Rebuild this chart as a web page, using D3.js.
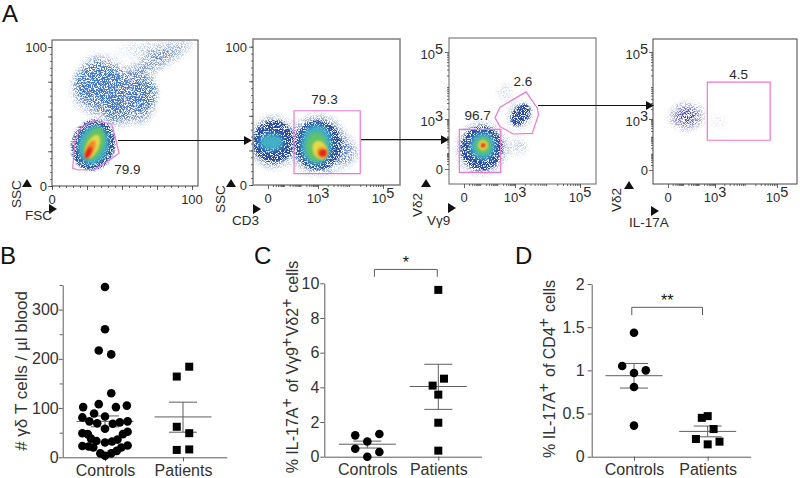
<!DOCTYPE html>
<html>
<head>
<meta charset="utf-8">
<script src="https://cdn.jsdelivr.net/npm/d3@7"></script>
<style>
	html, body { margin: 0; background: #fff; }
	svg { display: block; font-family: "Liberation Sans", Arial, sans-serif; }
</style>
</head>
<body>
<div id="chart-area"></div>
<script>
/*
	Data (flow panels, dot plots)
	Canvas, filters
	Flow panels
	Arrows
	Dot plots
*/

// ---- Flow panels: density clouds are [x, y, rx, ry, rotation, level] in axis units
const fscSscClouds = [
	[75, 90, 30, 4, -30, 0], [70, 98, 26, 2, 0, 0], [33, 88, 8, 5, 0, 0], [36, 70, 20, 18, 0, 0], [62, 62, 10, 16, 0, 0], [46, 52, 8, 8, 0, 0],
	[34.3, 73.9, 18, 14, 0, 1], [65.2, 65.5, 9, 13, 20, 1], [44, 58, 8, 10, 0, 1], [36, 72, 12, 9, 0, 1], [65, 66, 5, 8, 20, 1],
	[29.5, 29.5, 14.5, 17.5, 15, 2], [29.5, 29.5, 11, 14.4, 15, 3], [30, 30.5, 7, 12, 20, 4],
	[29, 28.5, 4.3, 9, 25, 5], [27.4, 26.6, 2.9, 6.7, 25, 6], [26, 24, 1.8, 4.6, 25, 7]
];
const cd3SscClouds = [
	[0.3, 31, 1.25, 17, 0, 0], [3, 29, 1.05, 20, 0, 0], [3.75, 24, 0.4, 9, 0, 0],
	[0.32, 31.3, 1.15, 14.5, 0, 2], [3, 29, 0.9, 17, 0, 2],
	[0.2, 31, 0.75, 6, 0, 3], [2.9, 29, 0.66, 14.5, 0, 3], [2.9, 27.7, 0.45, 10.5, 0, 4],
	[3.06, 25.3, 0.27, 7, -25, 5], [3.13, 23.5, 0.17, 4, -25, 6], [3.15, 23, 0.11, 2.4, 0, 7]
];
const vg9Vd2Clouds = [
	[1.04, 1.24, 1.3, 1.4, 0, 0], [2.41, 3.81, 0.45, 0.12, -35, 0], [3.15, 1.34, 0.2, 0.35, 0, 0],
	[3.17, 3.12, 0.3, 0.42, 40, 0], [3.17, 3.12, 0.22, 0.4, 40, 2],
	[1.04, 1.24, 1.15, 1.25, 0, 2], [1.1, 1.38, 0.74, 0.8, 0, 3], [1.12, 1.4, 0.46, 0.52, 0, 4],
	[1.12, 1.42, 0.28, 0.3, 0, 5], [1.12, 1.42, 0.18, 0.18, 0, 6], [1.12, 1.42, 0.1, 0.1, 0, 7]
];
const il17Vd2Clouds = [
	[1.2, 3.08, 0.95, 0.38, 0, 0], [3.16, 2.85, 0.25, 0.16, -35, 0]
];

// ---- Gates, axis units
const fscSscGate = [[14.8, 12.7], [16.4, 33.1], [21.2, 42.7], [30.7, 47], [42.6, 44.6], [45, 35.5], [47.9, 23.5], [39, 17.5], [30.7, 12.2], [18.8, 11.5]];
const cd3SscGate = [[1.56, 8.2], [1.56, 53.7], [4.3, 53.7], [4.3, 8.2]];
const vd2LowGate = [[-0.28, -0.2], [-0.28, 2.38], [2.16, 2.38], [2.16, -0.2]];
const vd2HighGate = [[1.82, 3.04], [2.12, 3.35], [3.34, 3.81], [3.69, 3.32], [3.72, 3.12], [3.53, 2.14], [2.9, 2.1], [2.12, 2.54]];
const il17Gate = [[2.51, 1.75], [2.51, 4.1], [4.78, 4.1], [4.78, 1.75]];

const densityColors = ["#5c7cc6", "#3f78c8", "#2a4ca6", "#3fb0c4", "#62c266", "#e6d94a", "#f08a2c", "#e2201e"];

// ---- Flow tick labels
const linearFlowTicks = [0, 100];
const logFlowTicks = [0, 3, 5];

// ---- B
const bControlsOffset = [0, 0, -0.08, 0.08, 0.08, -0.28, -0.08, 0.14, 0.28, -0.29, -0.14, 0, -0.2, -0.1, 0.1, 0.19, 0.29, 0, -0.29, -0.22, -0.18, -0.11, 0, 0.09, 0.16, 0.23, 0.29, -0.29, -0.21, -0.15, -0.06, 0, 0.08, 0.15, 0.21, 0.29];
const bControlsValue = [346, 260, 217, 209, 130, 102, 108, 102, 105, 81, 89, 83, 73, 69, 68, 71, 73, 58, 49, 47, 38, 33, 30, 32, 36, 47, 52, 23, 22, 20, 8, 3, 8, 13, 20, 24];
const bPatientsOffset = [0.08, -0.08, -0.08, 0.08, -0.08, 0.08];
const bPatientsValue = [184, 164, 62, 49, 15, 16];
const bControlsStats = [73, 62, 84];
const bPatientsStats = [82, 51, 112];

// ---- C
const cControlsOffset = [-0.17, 0.17, 0, -0.17, 0.17, 0];
const cControlsValue = [1.23, 1.31, 0.88, 0.46, 0.27, 0];
const cPatientsOffset = [0, 0.08, -0.08, 0, 0, 0];
const cPatientsValue = [9.62, 4.5, 4.1, 3.58, 1.96, 0.35];
const cControlsStats = [0.72, 0.5, 0.9];
const cPatientsStats = [4.05, 2.73, 5.33];

// ---- D
const dControlsOffset = [0, -0.16, 0.16, 0, 0, 0];
const dControlsValue = [1.436, 1.05, 1.0, 0.97, 0.807, 0.36];
const dPatientsOffset = [0, -0.08, 0.08, -0.16, 0.16, 0];
const dPatientsValue = [0.47, 0.45, 0.32, 0.205, 0.174, 0.143];
const dControlsStats = [0.938, 0.795, 1.08];
const dPatientsStats = [0.293, 0.23, 0.355];

const groupLabels = ["Controls", "Patients"];

// Canvas
const svg = d3.select("#chart-area")
	.append("svg")
	.attr("width", 800)
	.attr("height", 478);

const defs = svg.append("defs");
const ink = "#2b2b2b";
const axisGrey = "#5c5c5c";
const gatePink = "#ee78d0";

// grainy filter for the sparse blue levels, soft blur for the dense colours
function speckleFilter(id, blur, slope, intercept) {
	const f = defs.append("filter").attr("id", id)
		.attr("filterUnits", "userSpaceOnUse")
		.attr("x", 0).attr("y", 0).attr("width", 800).attr("height", 478)
		.attr("color-interpolation-filters", "sRGB");
	f.append("feGaussianBlur").attr("in", "SourceGraphic").attr("stdDeviation", blur).attr("result", "b");
	f.append("feTurbulence").attr("type", "fractalNoise").attr("baseFrequency", 1.3)
		.attr("numOctaves", 1).attr("seed", 7).attr("result", "n");
	f.append("feColorMatrix").attr("in", "n").attr("type", "matrix")
		.attr("values", "0 0 0 0 1  0 0 0 0 1  0 0 0 0 1  5 0 0 0 -2").attr("result", "na");
	f.append("feComposite").attr("in", "b").attr("in2", "na").attr("operator", "in").attr("result", "c");
	const t = f.append("feComponentTransfer").attr("in", "c").attr("result", "d");
	t.append("feFuncA").attr("type", "linear").attr("slope", slope).attr("intercept", intercept);
	f.append("feGaussianBlur").attr("in", "d").attr("stdDeviation", 0.4);
}
speckleFilter("grain0", 7, 1.5, -0.12);
speckleFilter("grain1", 4, 1.6, -0.2);
speckleFilter("grain2", 2, 3.2, -0.1);
defs.append("filter").attr("id", "soft3").append("feGaussianBlur").attr("stdDeviation", 2.4);
defs.append("filter").attr("id", "soft4").append("feGaussianBlur").attr("stdDeviation", 1.6);
defs.append("filter").attr("id", "soft5").append("feGaussianBlur").attr("stdDeviation", 1);

const levelFilter = ["grain0", "grain1", "grain2", "soft3", "soft4", "soft5", "soft5", "soft5"];

// Flow panels
function logMinorTicks() {
	const out = [];
	[0, 1, 2, 3, 4].forEach(e => {
		[2, 3, 4, 5, 6, 7, 8, 9].forEach(k => out.push(e + Math.log10(k)));
	});
	return out;
}

function powerLabel(sel, exp) {
	if (exp === 0) { sel.text("0"); return; }
	sel.append("tspan").text("10");
	sel.append("tspan").attr("dy", -5).attr("font-size", 14.5).text(exp);
}

function flowPanel(cfg) {
	const { frame, x, y } = cfg;
	const g = svg.append("g");
	const clipId = "clip-" + cfg.id;
	defs.append("clipPath").attr("id", clipId).append("rect")
		.attr("x", frame[0]).attr("y", frame[1])
		.attr("width", frame[2] - frame[0]).attr("height", frame[3] - frame[1]);

	// clouds, level by level
	const cloud = g.append("g").attr("clip-path", `url(#${clipId})`);
	d3.range(densityColors.length).forEach(level => {
		const rows = cfg.clouds.filter(d => d[5] === level);
		if (!rows.length) return;
		cloud.append("g")
			.attr("filter", `url(#${levelFilter[level]})`)
			.selectAll("ellipse")
			.data(rows)
			.join("ellipse")
			.attr("transform", d => `translate(${x(d[0])},${y(d[1])}) rotate(${d[4]})`)
			.attr("rx", d => Math.abs(x(d[0] + d[2]) - x(d[0] - d[2])) / 2)
			.attr("ry", d => Math.abs(y(d[1] + d[3]) - y(d[1] - d[3])) / 2)
			.attr("fill", cfg.sparseColor && level < 3 ? cfg.sparseColor : densityColors[level]);
	});

	// gates
	g.selectAll("polygon.gate")
		.data(cfg.gates)
		.join("polygon")
		.attr("class", "gate")
		.attr("points", d => d.map(p => [x(p[0]), y(p[1])].join(",")).join(" "))
		.attr("fill", "none")
		.attr("stroke", gatePink)
		.attr("stroke-width", 1.2);

	// frame
	g.append("rect")
		.attr("x", frame[0]).attr("y", frame[1])
		.attr("width", frame[2] - frame[0]).attr("height", frame[3] - frame[1])
		.attr("fill", "none")
		.attr("stroke", cfg.frameColor)
		.attr("stroke-width", cfg.frameWidth);

	// ticks
	const addAxis = (axis, scale, major, minor, tx, ty) => {
		const a = g.append("g").attr("transform", `translate(${tx},${ty})`);
		a.append("g").call(axis(scale).tickValues(minor).tickSize(2).tickFormat("").tickSizeOuter(0));
		a.append("g").call(axis(scale).tickValues(major).tickSize(4).tickFormat("").tickSizeOuter(0));
		a.selectAll(".domain").remove();
		a.selectAll("line").attr("stroke", "#444").attr("stroke-width", 0.8);
	};
	addAxis(d3.axisBottom, x, cfg.xMajor, cfg.xMinor, 0, frame[3]);
	addAxis(d3.axisLeft, y, cfg.yMajor, cfg.yMinor, frame[0], 0);

	// tick labels
	const tickText = (v, isLog, anchor, px, py) => {
		const t = g.append("text").attr("x", px).attr("y", py)
			.attr("text-anchor", anchor).attr("font-size", 13).attr("fill", ink);
		isLog ? powerLabel(t, v) : t.text(v);
	};
	cfg.xTicks.forEach(v => tickText(v, cfg.logX, "middle", x(v), frame[3] + 17.5));
	cfg.yTicks.forEach(v => tickText(v, cfg.logY, "end", frame[0] - cfg.yLabelGap, y(v) + (cfg.logY && v ? 7 : 5)));

	// population labels
	cfg.labels.forEach(d => {
		g.append("text").attr("x", x(d[0])).attr("y", y(d[1]))
			.attr("text-anchor", "middle").attr("font-size", 13.5).attr("fill", ink).text(d[2]);
	});

	// axis names with the small triangles
	const [ux, uy] = cfg.upMark, [rx, ry] = cfg.rightMark;
	g.append("path").attr("d", `M${ux - 5},${uy + 4}L${ux},${uy - 4}L${ux + 5},${uy + 4}Z`).attr("fill", "#111");
	g.append("path").attr("d", `M${rx - 4},${ry - 5}L${rx + 4},${ry}L${rx - 4},${ry + 5}Z`).attr("fill", "#111");
	g.append("text").attr("x", cfg.xName[1]).attr("y", cfg.xName[2])
		.attr("font-size", 13.5).attr("fill", ink).text(cfg.xName[0]);
	g.append("text").attr("transform", `translate(${cfg.yName[1]},${cfg.yName[2]}) rotate(-90)`)
		.attr("font-size", 13.5).attr("fill", ink).text(cfg.yName[0]);
}

const linearMinor = d3.range(0, 105, 5);
const logMinor = logMinorTicks();

flowPanel({
	id: "fsc", frame: [52, 40, 198, 186], logX: false, logY: false,
	x: d3.scaleLinear().domain([0, 100]).range([52, 192]),
	y: d3.scaleLinear().domain([0, 100]).range([186, 47]),
	clouds: fscSscClouds, gates: [fscSscGate],
	frameColor: "#444", frameWidth: 1,
	xMajor: [0, 25, 50, 75, 100], xMinor: linearMinor, yMajor: [0, 25, 50, 75, 100], yMinor: linearMinor,
	xTicks: linearFlowTicks, yTicks: linearFlowTicks, yLabelGap: 5,
	labels: [[53.8, 8.6, "79.9"]],
	upMark: [27, 183], rightMark: [53, 209],
	xName: ["FSC", 25, 220], yName: ["SSC", 20.5, 208]
});

flowPanel({
	id: "cd3", frame: [253, 39, 400, 185], logX: true, logY: false,
	x: d3.scaleLinear().domain([-0.9, 0, 3, 5, 5.5]).range([253, 268, 318, 383, 400]),
	y: d3.scaleLinear().domain([0, 100]).range([185, 46.7]),
	clouds: cd3SscClouds, gates: [cd3SscGate],
	frameColor: "#888", frameWidth: 1.6,
	xMajor: logFlowTicks, xMinor: logMinor, yMajor: [0, 25, 50, 75, 100], yMinor: linearMinor,
	xTicks: logFlowTicks, yTicks: linearFlowTicks, yLabelGap: 6,
	labels: [[3.2, 58.6, "79.3"]],
	upMark: [231, 183], rightMark: [257, 209],
	xName: ["CD3", 232, 225], yName: ["SSC", 225, 213]
});

flowPanel({
	id: "vg9", frame: [449, 38, 596, 184], logX: true, logY: true,
	x: d3.scaleLinear().domain([-0.9, 0, 3, 5, 5.5]).range([449, 464, 515, 580, 596]),
	y: d3.scaleLinear().domain([-0.9, 0, 3, 5, 5.4]).range([184, 169, 119, 52, 38]),
	clouds: vg9Vd2Clouds, gates: [vd2LowGate, vd2HighGate],
	frameColor: "#666", frameWidth: 1,
	xMajor: logFlowTicks, xMinor: logMinor, yMajor: logFlowTicks, yMinor: logMinor,
	xTicks: logFlowTicks, yTicks: logFlowTicks, yLabelGap: 6,
	labels: [[0.8, 2.95, "96.7"], [3.24, 3.98, "2.6"]],
	upMark: [426, 183], rightMark: [452, 208],
	xName: ["V\u03b39", 427, 225], yName: ["V\u03b42", 422, 217]
});

flowPanel({
	id: "il17", frame: [653, 39, 797, 184], logX: true, logY: true,
	x: d3.scaleLinear().domain([-0.9, 0, 3, 5, 5.5]).range([653, 668, 715, 777, 797]),
	y: d3.scaleLinear().domain([-0.9, 0, 3, 5, 5.4]).range([184, 170, 119, 52, 39]),
	clouds: il17Vd2Clouds, gates: [il17Gate], sparseColor: "#4545c0",
	frameColor: "#444", frameWidth: 1,
	xMajor: logFlowTicks, xMinor: logMinor, yMajor: logFlowTicks, yMinor: logMinor,
	xTicks: logFlowTicks, yTicks: logFlowTicks, yLabelGap: 5,
	labels: [[3.76, 4.2, "4.5"]],
	upMark: [629, 185], rightMark: [655, 211],
	xName: ["IL-17A", 629, 227], yName: ["V\u03b42", 621, 212]
});

// Arrows between the panels
const arrowRows = [[118, 252, 140.5], [361, 449, 139.7], [538, 654, 105.5]];
svg.append("g").selectAll("g")
	.data(arrowRows)
	.join("g")
	.each(function (d) {
		const a = d3.select(this);
		a.append("line").attr("x1", d[0]).attr("x2", d[1] - 5).attr("y1", d[2]).attr("y2", d[2])
			.attr("stroke", "#111").attr("stroke-width", 1.2);
		a.append("path").attr("d", `M${d[1] - 8},${d[2] - 4.5}L${d[1]},${d[2]}L${d[1] - 8},${d[2] + 4.5}Z`).attr("fill", "#111");
	});

// Dot plots
function dotPanel(cfg) {
	const g = svg.append("g");
	const y = d3.scaleLinear().domain(cfg.yDomain).range(cfg.yRange);
	const x0 = d3.scaleLinear().domain([1, 2]).range(cfg.groupPx);
	const x = d3.scaleLinear().domain([x0.invert(cfg.xEnds[0]), x0.invert(cfg.xEnds[1])]).range(cfg.xEnds);

	// axes
	const yAxis = g.append("g").attr("transform", `translate(${cfg.xEnds[0]},0)`)
		.call(d3.axisLeft(y).tickValues(cfg.yTicks).tickSize(4).tickPadding(cfg.labelPad).tickFormat(d => d).tickSizeOuter(0));
	if (cfg.yMinor) {
		g.append("g").attr("transform", `translate(${cfg.xEnds[0]},0)`)
			.call(d3.axisLeft(y).tickValues(cfg.yMinor).tickSize(3).tickFormat("").tickSizeOuter(0))
			.call(s => s.select(".domain").remove());
	}
	const xAxis = g.append("g").attr("transform", `translate(0,${cfg.yRange[0]})`)
		.call(d3.axisBottom(x).tickValues([1, 2]).tickSize(4).tickPadding(3).tickFormat(d => groupLabels[d - 1]).tickSizeOuter(0));
	g.selectAll(".domain, .tick line").attr("stroke", axisGrey).attr("stroke-width", 1);
	[yAxis, xAxis].forEach(a => a.selectAll("text")
		.attr("font-size", 16).attr("font-family", "Liberation Sans").attr("fill", "#333"));

	// mean with error bars
	[[1, cfg.controlsStats], [2, cfg.patientsStats]].forEach(([grp, s]) => {
		const e = g.append("g").attr("stroke", "#5e5e5e").attr("stroke-width", 1);
		e.append("line").attr("x1", x(grp) - 28.5).attr("x2", x(grp) + 28.5).attr("y1", y(s[0])).attr("y2", y(s[0]));
		e.append("line").attr("x1", x(grp)).attr("x2", x(grp)).attr("y1", y(s[1])).attr("y2", y(s[2]));
		[s[1], s[2]].forEach(v => {
			e.append("line").attr("x1", x(grp) - 14).attr("x2", x(grp) + 14).attr("y1", y(v)).attr("y2", y(v));
		});
	});

	// points
	g.append("g").selectAll("circle")
		.data(cfg.controlsValue)
		.join("circle")
		.attr("cx", (d, i) => x(1 + cfg.controlsOffset[i]))
		.attr("cy", d => y(d))
		.attr("r", 4.3)
		.attr("fill", "#000");
	g.append("g").selectAll("rect")
		.data(cfg.patientsValue)
		.join("rect")
		.attr("x", (d, i) => x(2 + cfg.patientsOffset[i]) - 4)
		.attr("y", d => y(d) - 4)
		.attr("width", 8)
		.attr("height", 8)
		.attr("fill", "#000");

	// significance bracket
	if (cfg.bracket) {
		const b = cfg.bracket;
		g.append("path")
			.attr("d", `M${x(b.from)},${y(b.low)}V${y(b.high)}H${x(b.to)}V${y(b.low)}`)
			.attr("fill", "none").attr("stroke", axisGrey).attr("stroke-width", 1);
		g.append("text").attr("x", (x(b.from) + x(b.to)) / 2).attr("y", y(b.high) - 1)
			.attr("text-anchor", "middle").attr("font-size", 16).attr("fill", "#111").text(b.mark);
	}

	// y title with superscripts
	const title = g.append("text")
		.attr("transform", `translate(${cfg.titlePos[0]},${cfg.titlePos[1]}) rotate(-90)`)
		.attr("text-anchor", "middle").attr("font-size", cfg.titleSize || 16).attr("fill", "#333");
	cfg.title.forEach(([s, sup]) => {
		title.append("tspan").attr("dy", sup ? -6 : 0).text(s);
		if (sup) title.append("tspan").attr("dy", 6).text("\u200a");
	});
}

dotPanel({
	yDomain: [0, 350], yRange: [457.3, 285], groupPx: [105, 183], xEnds: [62.7, 226.7],
	yTicks: [0, 100, 200, 300], yMinor: [50, 150, 250, 350], labelPad: 0,
	controlsValue: bControlsValue, controlsOffset: bControlsOffset,
	patientsValue: bPatientsValue, patientsOffset: bPatientsOffset,
	controlsStats: bControlsStats, patientsStats: bPatientsStats,
	title: [["# \u03b3\u03b4 T cells / \u00b5l blood"]], titlePos: [27, 371], titleSize: 17
});

dotPanel({
	yDomain: [0, 10], yRange: [456.7, 283.3], groupPx: [367.3, 438.3], xEnds: [324.3, 481.7],
	yTicks: [0, 2, 4, 6, 8, 10], labelPad: 1,
	controlsValue: cControlsValue, controlsOffset: cControlsOffset,
	patientsValue: cPatientsValue, patientsOffset: cPatientsOffset,
	controlsStats: cControlsStats, patientsStats: cPatientsStats,
	bracket: { from: 1.1, to: 1.986, low: 10.38, high: 10.8, mark: "*" },
	title: [["% IL-17A"], ["+", true], [" of V\u03b39"], ["+", true], ["V\u03b42"], ["+", true], [" cells"]], titlePos: [298, 367]
});

dotPanel({
	yDomain: [0, 2], yRange: [456.7, 284], groupPx: [634, 707.7], xEnds: [591.7, 750.7],
	yTicks: [0, 0.5, 1, 1.5, 2], labelPad: 3,
	controlsValue: dControlsValue, controlsOffset: dControlsOffset,
	patientsValue: dPatientsValue, patientsOffset: dPatientsOffset,
	controlsStats: dControlsStats, patientsStats: dPatientsStats,
	bracket: { from: 0.97, to: 1.93, low: 1.64, high: 1.73, mark: "**" },
	title: [["% IL-17A"], ["+", true], [" of CD4"], ["+", true], [" cells"]], titlePos: [555, 369]
});

// Panel letters
const panelLetters = [["A", 2, 21.8], ["B", 0, 264], ["C", 254, 264], ["D", 515, 264]];
svg.append("g").selectAll("text")
	.data(panelLetters)
	.join("text")
	.attr("x", d => d[1])
	.attr("y", d => d[2])
	.attr("font-size", 24)
	.attr("fill", "#111")
	.text(d => d[0]);
</script>
</body>
</html>
